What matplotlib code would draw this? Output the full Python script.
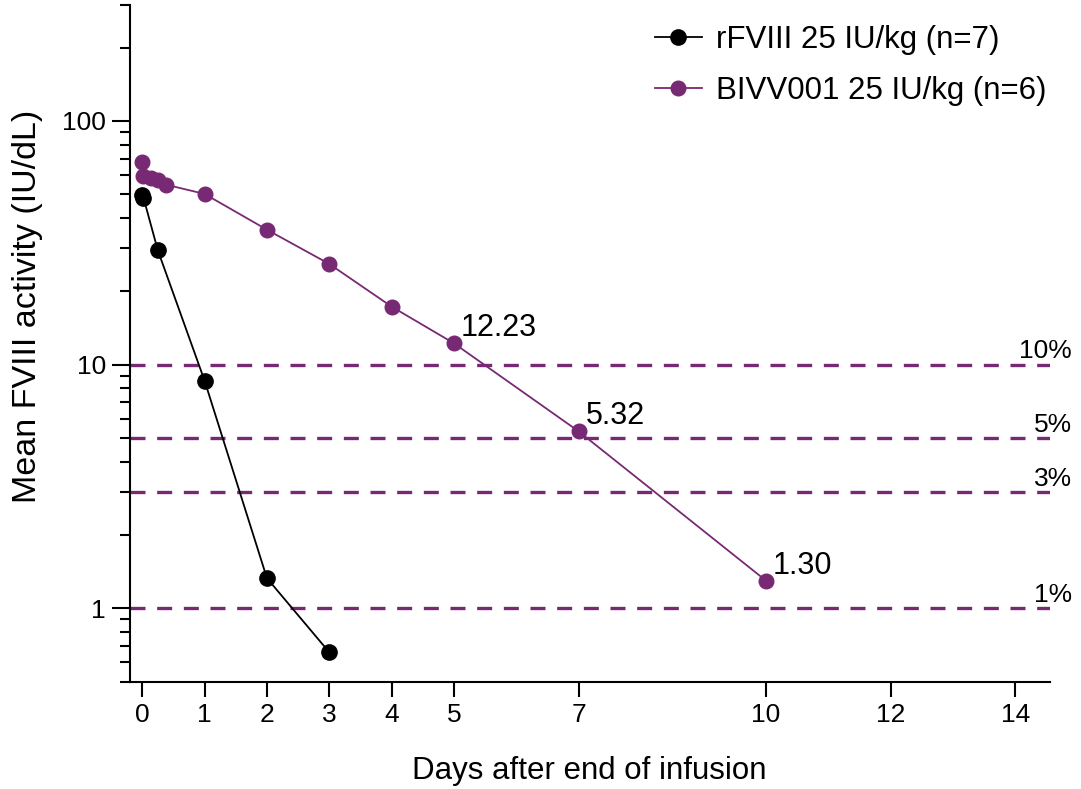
import matplotlib
matplotlib.use("Agg")
import matplotlib.pyplot as plt
from matplotlib.ticker import LogLocator, FixedLocator, NullFormatter

plt.rcParams['font.family'] = ['Liberation Sans', 'DejaVu Sans']

# mean FVIII activity (IU/dL) by day after end of infusion
rfviii_days = [0, 0.02, 0.25, 1, 2, 3]
rfviii_act = [49.5, 48.5, 29.5, 8.6, 1.33, 0.66]

bivv_days = [0, 0.01, 0.14, 0.26, 0.38, 1, 2, 3, 4, 5, 7, 10]
bivv_act = [68.0, 59.5, 58.5, 57.2, 54.8, 50.2, 35.8, 25.9, 17.3, 12.23, 5.32, 1.30]

labelled_days = [5, 7, 10]
labelled_act = [12.23, 5.32, 1.30]

thresholds = [10, 5, 3, 1]
threshold_labels = ['10%', '5%', '3%', '1%']

x_ticks = [0, 1, 2, 3, 4, 5, 7, 10, 12, 14]

purple = '#772a73'

fig = plt.figure(figsize=(10.81, 7.89), dpi=100)
ax = fig.add_axes([0.120, 0.136, 0.851, 0.858])

for y, lab in zip(thresholds, threshold_labels):
    ax.axhline(y, color=purple, lw=2.4, ls=(0, (4.5, 3.5)), zorder=1)
    ax.annotate(lab, xy=(1.024, y), xycoords=('axes fraction', 'data'),
                xytext=(0, 1), textcoords='offset points',
                ha='right', va='bottom', fontsize=19, annotation_clip=False)

ax.plot(rfviii_days, rfviii_act, color='black', lw=1.3, marker='o', ms=11,
        label='rFVIII 25 IU/kg (n=7)', zorder=3)
ax.plot(bivv_days, bivv_act, color=purple, lw=1.3, marker='o', ms=10.5,
        label='BIVV001 25 IU/kg (n=6)', zorder=3)

for d, v in zip(labelled_days, labelled_act):
    ax.annotate(f'{v:.2f}', xy=(d, v), xytext=(5, 0), textcoords='offset points',
                ha='left', va='bottom', fontsize=22)

ax.set_yscale('log')
ax.set_ylim(0.5, 300)
ax.set_xlim(-0.2, 14.55)
ax.xaxis.set_major_locator(FixedLocator(x_ticks))
ax.set_xticklabels([str(t) for t in x_ticks])
ax.yaxis.set_major_locator(FixedLocator([1, 10, 100]))
ax.set_yticklabels(['1', '10', '100'])
ax.yaxis.set_minor_locator(LogLocator(base=10, subs=range(2, 10)))
ax.yaxis.set_minor_formatter(NullFormatter())

for side in ['top', 'right']:
    ax.spines[side].set_visible(False)
for side in ['left', 'bottom']:
    ax.spines[side].set_linewidth(1.5)

ax.tick_params(axis='both', which='major', labelsize=19, width=1.5)
ax.tick_params(axis='y', which='major', length=13, pad=4)
ax.tick_params(axis='y', which='minor', width=1.5, length=7)
ax.tick_params(axis='x', which='major', length=11, pad=4)

ax.set_xlabel('Days after end of infusion', fontsize=22.5, labelpad=21)
ax.set_ylabel('Mean FVIII activity (IU/dL)', fontsize=24.5)
ax.yaxis.set_label_coords(-0.094, 0.555)

ax.legend(loc='upper right', bbox_to_anchor=(1.027, 1.012), frameon=False, fontsize=22.5,
          handlelength=1.5, handletextpad=0.45, labelspacing=0.68)

fig.savefig('out.png', dpi=100)
